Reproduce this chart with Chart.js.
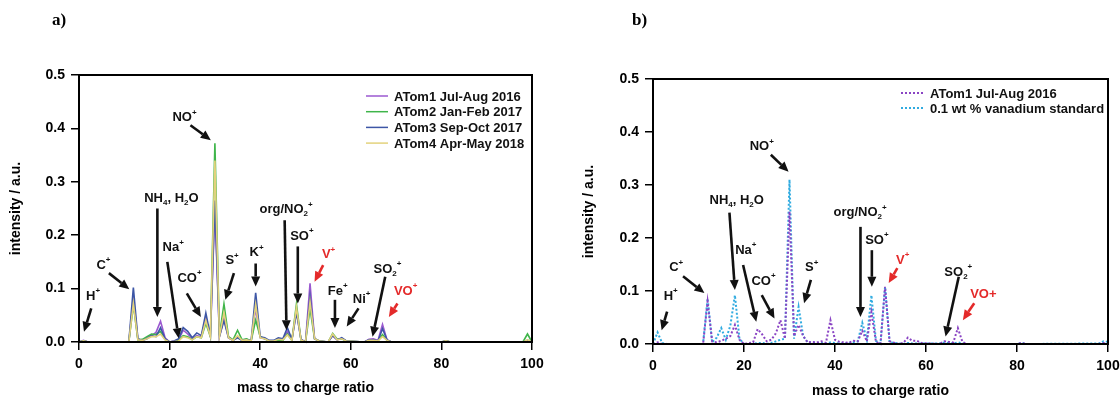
<!DOCTYPE html>
<html>
<head>
<meta charset="utf-8">
<script src="https://cdn.jsdelivr.net/npm/chart.js@4/dist/chart.umd.min.js"></script>
<style>
  body { margin: 0; background: #fff; }
  .panel { position: absolute; top: 0; width: 560px; height: 398px; }
</style>
</head>
<body>
<div class="panel" style="left:0"><canvas id="chartA" width="560" height="398"></canvas></div>
<div class="panel" style="left:560px"><canvas id="chartB" width="560" height="398"></canvas></div>
<script>
// ---- panel a: four ATom campaigns ----
const mzA    = [0, 1, 2, 11, 12, 13, 14, 15, 16, 17, 18, 19, 20, 21, 22, 23, 24, 25, 26, 27, 28, 29, 30, 31, 32, 33, 34, 35, 36, 37, 38, 39, 40, 41, 42, 43, 44, 45, 46, 47, 48, 49, 50, 51, 52, 53, 55, 56, 57, 58, 59, 63, 64, 65, 66, 67, 68, 69, 80, 81, 82, 98, 99, 100];
const atom1A = [0, .003, 0, 0, .080, .005, .003, .008, .012, .018, .039, .008, 0, .002, .004, .022, .015, .006, .012, .010, .045, .012, .250, .010, .045, .008, .003, .010, .003, .005, .002, .063, .008, .006, .002, .002, .006, .005, .020, .004, .060, .005, 0, .110, .006, .002, 0, .012, .004, .007, .002, 0, .005, .006, .003, .033, .004, 0, 0, .002, 0, 0, .003, 0];
const atom2A = [0, .002, 0, 0, .070, .004, .005, .010, .015, .014, .020, .005, 0, .001, .003, .012, .010, .004, .010, .008, .035, .010, .372, .012, .071, .010, .004, .022, .004, .006, .002, .041, .010, .006, .002, .002, .004, .003, .015, .003, .071, .004, 0, .063, .006, .002, 0, .016, .005, .006, .002, 0, .003, .003, .002, .014, .003, 0, 0, .002, 0, 0, .015, 0];
const atom3A = [0, .002, 0, 0, .102, .006, .003, .006, .012, .010, .027, .006, 0, .002, .006, .027, .020, .008, .017, .012, .054, .012, .265, .010, .040, .008, .003, .008, .003, .004, .002, .092, .010, .008, .003, .003, .008, .006, .027, .005, .055, .005, 0, .085, .006, .002, 0, .012, .004, .008, .002, 0, .004, .004, .002, .025, .004, 0, 0, .002, 0, 0, .003, 0];
const atom4A = [0, .002, 0, 0, .072, .004, .003, .006, .010, .010, .015, .004, 0, .001, .002, .010, .008, .004, .010, .008, .040, .010, .340, .010, .055, .008, .003, .012, .003, .004, .002, .070, .008, .006, .002, .002, .005, .004, .013, .003, .065, .004, 0, .075, .006, .002, 0, .015, .004, .006, .002, 0, .003, .003, .002, .010, .003, 0, 0, .002, 0, 0, .004, 0];
const labelsA = ['ATom1 Jul-Aug 2016', 'ATom2 Jan-Feb 2017', 'ATom3 Sep-Oct 2017', 'ATom4 Apr-May 2018'];

// ---- panel b: ATom1 vs vanadium standard ----
const mzB    = [0, 1, 2, 3, 11, 12, 13, 14, 15, 16, 17, 18, 19, 20, 22, 23, 24, 25, 26, 27, 28, 29, 30, 31, 32, 33, 34, 35, 36, 37, 38, 39, 40, 41, 43, 44, 45, 46, 47, 48, 49, 50, 51, 52, 54, 55, 56, 57, 58, 59, 63, 64, 65, 66, 67, 68, 69, 80, 81, 82, 98, 99, 100];
const atom1B = [0, .003, 0, 0, 0, .080, .005, .003, .006, .010, .015, .036, .008, 0, .003, .028, .018, .005, .008, .020, .045, .010, .250, .015, .036, .015, .003, .004, .003, .005, .002, .045, .008, .004, .002, .006, .005, .025, .005, .060, .004, 0, .108, .005, 0, .002, .012, .006, .006, .002, 0, .005, .004, .003, .030, .004, 0, 0, .002, 0, 0, .002, 0];
const vstdB  = [0, .022, .002, 0, 0, .086, .003, .012, .030, .008, .035, .092, .010, 0, 0, .002, .002, 0, .002, .005, .008, .010, .310, .010, .070, .015, .003, .003, .002, .002, .001, .003, .002, .001, .001, .003, .005, .040, .008, .092, .006, .001, .108, .003, .001, 0, .002, .001, .001, .001, .001, .003, .002, .001, .003, .001, 0, 0, .002, 0, .001, .005, .004];
const labelsB = ['ATom1 Jul-Aug 2016', '0.1 wt % vanadium standard'];

const xTicks = [0, 20, 40, 60, 80, 100];
const yTicks = [0, 0.1, 0.2, 0.3, 0.4, 0.5];

// peak labels: text (^ sup, _ sub), label centre, arrow from -> to, in data units
const annotA = [
  ['H^+', 3.1, .088, 2.7, .063, 1.1, .019, 0],
  ['C^+', 5.4, .146, 6.6, .129, 11.1, .099, 0],
  ['NH_4, H_2O', 20.4, .271, 17.3, .250, 17.3, .047, 0],
  ['Na^+', 20.8, .179, 19.5, .150, 22.0, .007, 0],
  ['CO^+', 24.4, .122, 23.8, .091, 26.9, .047, 0],
  ['NO^+', 23.3, .422, 24.6, .406, 29.1, .378, 0],
  ['S^+', 33.8, .154, 34.2, .129, 32.3, .079, 0],
  ['K^+', 39.2, .169, 39.0, .147, 39.0, .104, 0],
  ['org/NO_2^+', 45.7, .250, 45.4, .228, 45.8, .022, 0],
  ['SO^+', 49.2, .200, 48.3, .179, 48.3, .072, 0],
  ['V^+', 55.1, .166, 53.9, .144, 52.0, .113, 1],
  ['Fe^+', 57.1, .097, 56.5, .079, 56.5, .026, 0],
  ['Ni^+', 62.4, .082, 61.7, .063, 59.1, .029, 0],
  ['SO_2^+', 68.1, .138, 67.6, .122, 64.8, .010, 0],
  ['VO^+', 72.1, .097, 70.3, .072, 68.4, .047, 1]
];
const annotB = [
  ['H^+', 3.9, .092, 3.1, .061, 1.9, .026, 0],
  ['C^+', 5.1, .146, 6.6, .128, 11.3, .096, 0],
  ['NH_4, H_2O', 18.4, .273, 16.8, .248, 18.0, .102, 0],
  ['Na^+', 20.4, .179, 19.8, .149, 22.7, .042, 0],
  ['CO^+', 24.3, .121, 23.9, .092, 26.7, .048, 0],
  ['NO^+', 23.9, .374, 25.9, .357, 29.8, .325, 0],
  ['S^+', 34.9, .146, 34.7, .121, 33.2, .077, 0],
  ['org/NO_2^+', 45.5, .250, 45.6, .221, 45.6, .051, 0],
  ['SO^+', 49.2, .198, 48.1, .177, 48.1, .108, 0],
  ['V^+', 54.9, .160, 53.7, .143, 51.8, .115, 1],
  ['SO_2^+', 67.1, .138, 67.2, .127, 64.3, .014, 0],
  ['VO+', 72.6, .096, 70.6, .077, 68.1, .045, 1]
];

const FONT = '"Liberation Sans", Arial, sans-serif';
const RED = '#e42a2a';

function drawRich(ctx, str, cx, cy, size, color) {
  const parts = [];
  for (let i = 0; i < str.length; i++) {
    const c = str[i];
    if ((c === '^' || c === '_') && i + 1 < str.length) { parts.push({ t: str[i + 1], m: c }); i++; }
    else parts.push({ t: c, m: '' });
  }
  const big = `bold ${size}px ${FONT}`;
  const small = `bold ${Math.round(size * 0.65)}px ${FONT}`;
  let w = 0;
  parts.forEach(p => { ctx.font = p.m ? small : big; p.w = ctx.measureText(p.t).width; w += p.w; });
  let x = cx - w / 2;
  const base = cy + size * 0.36;
  ctx.fillStyle = color;
  ctx.textAlign = 'left';
  ctx.textBaseline = 'alphabetic';
  parts.forEach(p => {
    ctx.font = p.m ? small : big;
    const dy = p.m === '^' ? -size * 0.5 : p.m === '_' ? size * 0.25 : 0;
    ctx.fillText(p.t, x, base + dy);
    x += p.w;
  });
}

function drawArrow(ctx, x1, y1, x2, y2, color) {
  const a = Math.atan2(y2 - y1, x2 - x1);
  const hl = 10, hw = 4.5;
  const c = Math.cos(a), s = Math.sin(a);
  ctx.strokeStyle = color;
  ctx.lineWidth = 2.6;
  ctx.beginPath();
  ctx.moveTo(x1, y1);
  ctx.lineTo(x2 - hl * c, y2 - hl * s);
  ctx.stroke();
  ctx.fillStyle = color;
  ctx.beginPath();
  ctx.moveTo(x2, y2);
  ctx.lineTo(x2 - hl * c + hw * s, y2 - hl * s - hw * c);
  ctx.lineTo(x2 - hl * c - hw * s, y2 - hl * s + hw * c);
  ctx.closePath();
  ctx.fill();
}

function decorPlugin(opts) {
  return {
    id: 'decor',
    afterDatasetsDraw(chart) {
      const { ctx, chartArea: ca, scales: { x, y } } = chart;
      ctx.save();
      // frame
      ctx.strokeStyle = '#000';
      ctx.lineWidth = 2;
      ctx.strokeRect(ca.left, ca.top, ca.right - ca.left, ca.bottom - ca.top);
      // peak annotations
      opts.annot.forEach(([t, tx, ty, ax1, ay1, ax2, ay2, red]) => {
        const col = red ? RED : '#111';
        drawArrow(ctx, x.getPixelForValue(ax1), y.getPixelForValue(ay1),
          x.getPixelForValue(ax2), y.getPixelForValue(ay2), col);
        drawRich(ctx, t, x.getPixelForValue(tx), y.getPixelForValue(ty), 13, col);
      });
      // legend
      chart.data.datasets.forEach((ds, i) => {
        const ly = ca.top + opts.legTop + i * opts.legStep;
        const lx = ca.right - opts.legRight;
        ctx.strokeStyle = ds.borderColor;
        ctx.lineWidth = ds.borderDash ? 2 : 1.5;
        ctx.setLineDash(ds.borderDash || []);
        ctx.beginPath();
        ctx.moveTo(lx, ly);
        ctx.lineTo(lx + opts.legLen, ly);
        ctx.stroke();
        ctx.setLineDash([]);
        ctx.fillStyle = '#111';
        ctx.font = `bold 13px ${FONT}`;
        ctx.textAlign = 'left';
        ctx.textBaseline = 'middle';
        ctx.fillText(ds.label, lx + opts.legLen + 6, ly + 1);
      });
      // panel letter
      ctx.font = 'bold 17px "Liberation Serif", "Times New Roman", serif';
      ctx.fillStyle = '#000';
      ctx.textBaseline = 'alphabetic';
      ctx.fillText(opts.letter, opts.letterX, 25);
      ctx.restore();
    }
  };
}

function pts(xs, ys) {
  return xs.map((v, i) => ({ x: v, y: ys[i] }));
}

function makeOptions(p) {
  const tickFont = { family: FONT, size: 14, weight: 'bold' };
  return {
    responsive: false,
    animation: false,
    layout: { padding: { top: p.top, right: p.right, left: 0, bottom: 0 } },
    plugins: { legend: { display: false }, tooltip: { enabled: false } },
    elements: { point: { radius: 0 }, line: { tension: 0 } },
    scales: {
      x: {
        type: 'linear', min: 0, max: 100,
        afterBuildTicks: s => { s.ticks = xTicks.map(v => ({ value: v })); },
        ticks: { color: '#000', font: tickFont, padding: 6, maxRotation: 0 },
        grid: { drawOnChartArea: false, tickLength: 8, color: '#000', lineWidth: 1.5 },
        border: { color: '#000', width: 2 },
        title: { display: true, text: 'mass to charge ratio', color: '#000',
          font: { family: FONT, size: 14, weight: 'bold', lineHeight: 1 },
          padding: { top: 0, bottom: p.xTitlePad } },
        afterFit: s => { s.height = p.xh; s.paddingLeft = 0; s.paddingRight = 0; }
      },
      y: {
        min: 0, max: 0.5,
        afterBuildTicks: s => { s.ticks = yTicks.map(v => ({ value: v })); },
        ticks: { color: '#000', font: tickFont, padding: 6, callback: v => v.toFixed(1) },
        grid: { drawOnChartArea: false, tickLength: 8, color: '#000', lineWidth: 1.5 },
        border: { color: '#000', width: 2 },
        title: { display: true, text: 'intensity / a.u.', color: '#000',
          font: { family: FONT, size: 14, weight: 'bold', lineHeight: 1 },
          padding: { top: p.yTitlePad, bottom: 0 } },
        afterFit: s => { s.width = p.yw; s.paddingTop = 0; s.paddingBottom = 0; }
      }
    }
  };
}

const colA = ['#9b59d0', '#3fb54a', '#3d56a6', '#e3d27c'];
const seriesA = [atom1A, atom2A, atom3A, atom4A];
new Chart(document.getElementById('chartA'), {
  type: 'line',
  data: {
    datasets: seriesA.map((s, i) => ({
      label: labelsA[i], data: pts(mzA, s), borderColor: colA[i],
      borderWidth: 1.6, fill: false, clip: 4, order: 4 - i
    }))
  },
  options: makeOptions({ top: 75, right: 28, xh: 56, yw: 79, xTitlePad: 3, yTitlePad: 9 }),
  plugins: [decorPlugin({ annot: annotA, legTop: 21, legStep: 15.7, legRight: 166, legLen: 22, letter: 'a)', letterX: 52 })]
});

const colB = ['#8a44c4', '#30abe0'];
const seriesB = [atom1B, vstdB];
new Chart(document.getElementById('chartB'), {
  type: 'line',
  data: {
    datasets: seriesB.map((s, i) => ({
      label: labelsB[i], data: pts(mzB, s), borderColor: colB[i],
      borderWidth: 2, borderDash: [2, 2], fill: false, clip: 4
    }))
  },
  options: makeOptions({ top: 79, right: 12, xh: 54, yw: 93, xTitlePad: 0, yTitlePad: 22 }),
  plugins: [decorPlugin({ annot: annotB, legTop: 14, legStep: 15, legRight: 207, legLen: 23, letter: 'b)', letterX: 72 })]
});
</script>
</body>
</html>
